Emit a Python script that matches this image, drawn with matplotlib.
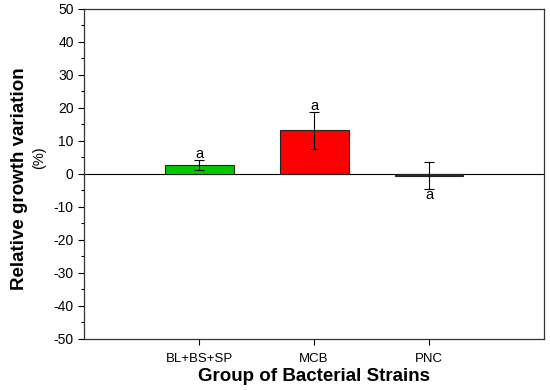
import matplotlib.pyplot as plt
from matplotlib.ticker import MultipleLocator

plt.rcParams['font.family'] = ['Liberation Sans', 'DejaVu Sans']
plt.rcParams['axes.unicode_minus'] = False

groups = ["BL+BS+SP", "MCB", "PNC"]
values = [2.7, 13.2, -0.5]
errors = [1.6, 5.6, 4.0]
letters = ["a", "a", "a"]
colors = ["#00c800", "#ff0000", "#1c2f5a"]

fig = plt.figure(figsize=(5.5, 3.9), dpi=100)
ax = fig.add_axes([0.153, 0.131, 0.836, 0.846])

x = [1, 2, 3]
ax.bar(x, values, width=0.6, color=colors, edgecolor="#222222", linewidth=0.8, zorder=2)
ax.errorbar(x, values, yerr=errors, fmt="none", ecolor="black", elinewidth=0.8,
            capsize=3.6, capthick=0.8, zorder=3)
ax.axhline(0, color="black", linewidth=0.8, zorder=1)

# significance letters
for xi, v, e, l in zip(x, values, errors, letters):
    if v >= 0:
        ax.text(xi, v + e - 0.4, l, ha="center", va="bottom", fontsize=10.5)
    else:
        ax.text(xi, v - e + 0.2, l, ha="center", va="top", fontsize=10.5)

ax.set_xlim(0, 4)
ax.set_ylim(-50, 50)
ax.set_xticks(x)
ax.set_xticklabels(groups, fontsize=9.5)
ax.yaxis.set_major_locator(MultipleLocator(10))
ax.yaxis.set_minor_locator(MultipleLocator(5))
ax.tick_params(axis="y", labelsize=10, direction="out", length=4, width=0.8)
ax.tick_params(axis="y", which="minor", length=2.5, width=0.8)
ax.tick_params(axis="x", direction="out", length=4, width=0.8, pad=6)
for s in ax.spines.values():
    s.set_linewidth(0.9)
    s.set_color("#333333")

ax.set_xlabel("Group of Bacterial Strains", fontsize=13.5, fontweight="bold", labelpad=2)
fig.text(0.035, 0.541, "Relative growth variation", rotation=90, fontsize=13.5,
         fontweight="bold", ha="center", va="center")
fig.text(0.071, 0.596, "(%)", rotation=90, fontsize=10.5, ha="center", va="center")

fig.savefig("out.png", dpi=100)
